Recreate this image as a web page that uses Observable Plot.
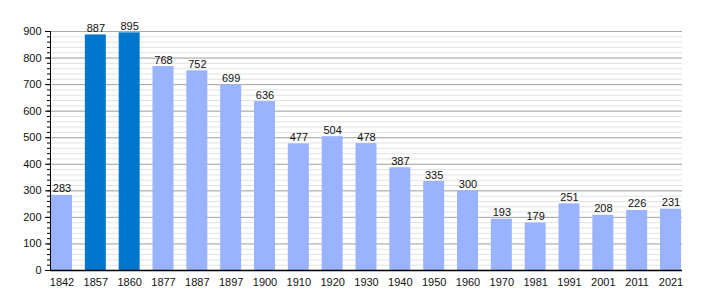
<!DOCTYPE html>
<html>
<head>
<meta charset="utf-8">
<script src="https://cdn.jsdelivr.net/npm/d3@7"></script>
<script src="https://cdn.jsdelivr.net/npm/@observablehq/plot@0.6"></script>
<style>
  html, body { margin: 0; padding: 0; background: #fff; }
  svg { display: block; }
</style>
</head>
<body>
<div id="chart"></div>
<script>
const years = ["1842","1857","1860","1877","1887","1897","1900","1910","1920","1930","1940","1950","1960","1970","1981","1991","2001","2011","2021"];
const population = [283,887,895,768,752,699,636,477,504,478,387,335,300,193,179,251,208,226,231];
const highlighted = ["1857","1860"];
const majorTicks = d3.range(0, 901, 100);
const minorTicks = d3.range(0, 901, 20);

const data = years.map((y, i) => ({year: y, value: population[i], hi: highlighted.includes(y)}));

const chart = Plot.plot({
  width: 710,
  height: 300,
  marginLeft: 50,
  marginRight: 28,
  marginTop: 31,
  marginBottom: 30,
  style: {fontFamily: "Liberation Sans, Arial, sans-serif", fontSize: "11px", color: "#222", background: "#fff"},
  x: {domain: years, paddingInner: 0.38, paddingOuter: 0.03, align: 0.5, round: false, label: null},
  y: {domain: [0, 900], label: null},
  marks: [
    Plot.ruleY(minorTicks, {stroke: "#e2e2e2", strokeWidth: 1}),
    Plot.ruleY(majorTicks, {stroke: "#a8a8a8", strokeWidth: 1}),
    Plot.barY(data, {x: "year", y: "value", fill: d => d.hi ? "#0077CC" : "#99B3FF"}),
    Plot.text(data, {x: "year", y: "value", text: d => String(d.value), lineAnchor: "bottom", dy: -3, fill: "#111", fontSize: 11}),
    Plot.axisY({ticks: minorTicks, tickSize: 3, text: null, label: null, stroke: "#000"}),
    Plot.axisY({ticks: majorTicks, tickSize: 5, tickPadding: 4, label: null, stroke: "#000", fill: "#111", fontSize: 11}),
    Plot.axisX({tickSize: 0, tickPadding: 8, label: null, fill: "#111", fontSize: 11}),
    Plot.frame({anchor: "left", stroke: "#000"}),
    Plot.ruleY([0], {stroke: "#000", strokeWidth: 1.5})
  ]
});
document.getElementById("chart").appendChild(chart);
</script>
</body>
</html>
